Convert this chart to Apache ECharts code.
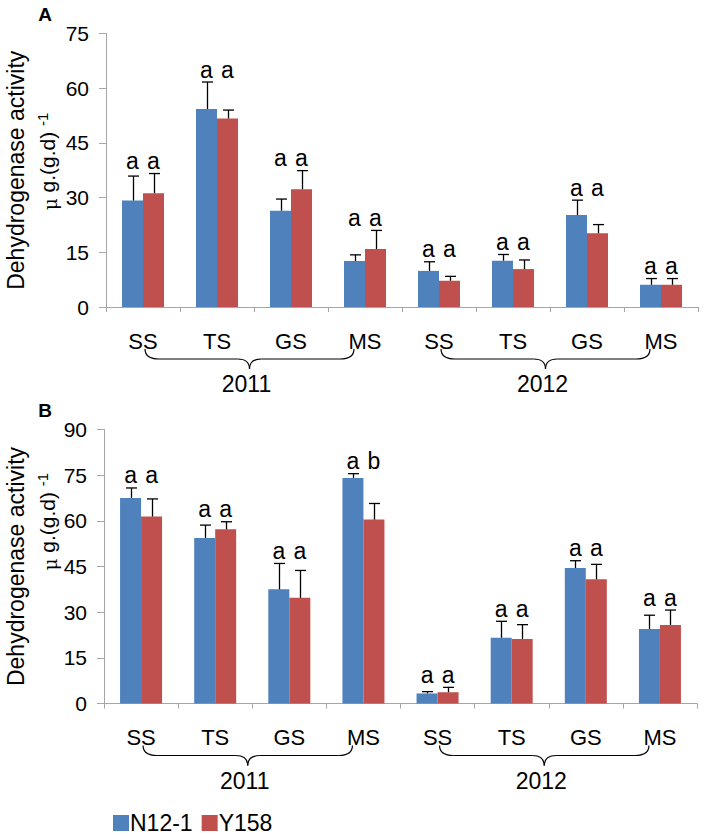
<!DOCTYPE html>
<html>
<head>
<meta charset="utf-8">
<script src="https://cdn.jsdelivr.net/npm/echarts@6/dist/echarts.min.js"></script>
<style>
html,body{margin:0;padding:0;background:#fff;}
#chart{width:705px;height:836px;}
</style>
</head>
<body>
<div id="chart"></div>
<script>
// ---- data ----
const categories = ['SS','TS','GS','MS','SS','TS','GS','MS'];
const yearLabels = ['2011','2012'];
const seriesNames = ['N12-1','Y158'];
const panelLabels = ['A','B'];

const A_N12 = [29.2, 54.3, 26.4, 12.6, 9.9, 12.7, 25.2, 6.1];
const A_N12_err = [6.7, 7.4, 3.2, 1.7, 2.5, 1.7, 4.1, 1.7];
const A_Y158 = [31.2, 51.7, 32.3, 15.9, 7.2, 10.4, 20.2, 6.1];
const A_Y158_err = [5.4, 2.3, 5.1, 5.1, 1.2, 2.5, 2.4, 1.7];
const A_N12_letters = ['a','a','a','a','a','a','a','a'];
const A_Y158_letters = ['a','a','a','a','a','a','a','a'];

const B_N12 = [67.5, 54.4, 37.5, 74.1, 3.3, 21.6, 44.5, 24.5];
const B_N12_err = [3.3, 4.2, 8.5, 1.4, 0.6, 5.4, 2.4, 4.5];
const B_Y158 = [61.4, 57.2, 34.7, 60.4, 3.7, 21.2, 40.8, 25.8];
const B_Y158_err = [5.8, 2.5, 9.0, 5.3, 1.6, 4.7, 4.9, 4.9];
const B_N12_letters = ['a','a','a','a','a','a','a','a'];
const B_Y158_letters = ['a','a','a','b','a','a','a','a'];

const yTicksA = {min:0, max:75, interval:15};
const yTicksB = {min:0, max:90, interval:15};

// ---- style ----
const FONT = 'Liberation Sans, Arial, sans-serif';
const BLUE = '#4F81BD';
const RED = '#C0504D';
const AXIS = '#A6A6A6';
const BAR_W = 21;

const chart = echarts.init(document.getElementById('chart'), null, {renderer:'svg'});

function errSeries(g, vals, errs, offset){
  return {
    type:'custom', xAxisIndex:g, yAxisIndex:g, z:5, silent:true,
    data: vals.map((v,i)=>[i, v, errs[i]]),
    encode:{x:0, y:1},
    renderItem:(params, api)=>{
      const i = api.value(0), v = api.value(1), e = api.value(2);
      const p0 = api.coord([i, v]);
      const p1 = api.coord([i, v + e]);
      const x = Math.round(p0[0] + offset) + 0.5;
      const st = {stroke:'#000', lineWidth:1.3};
      return {type:'group', children:[
        {type:'line', shape:{x1:x, y1:p0[1], x2:x, y2:p1[1]}, style:st},
        {type:'line', shape:{x1:x-5.5, y1:p1[1], x2:x+5.5, y2:p1[1]}, style:st}
      ]};
    }
  };
}

function letterSeries(g, nv, ne, yv, ye, nl, yl){
  return {
    type:'custom', xAxisIndex:g, yAxisIndex:g, z:6, silent:true,
    data: nv.map((v,i)=>[i, Math.max(v + ne[i], yv[i] + ye[i])]),
    encode:{x:0, y:1},
    renderItem:(params, api)=>{
      const i = api.value(0), top = api.value(1);
      const p = api.coord([i, top]);
      const mk = (t, dx)=>({type:'text', x:p[0]+dx, y:p[1]-1,
        style:{text:t, fill:'#000', font:'23px ' + FONT, align:'center', verticalAlign:'bottom'}});
      return {type:'group', children:[mk(nl[i], -BAR_W/2), mk(yl[i], BAR_W/2)]};
    }
  };
}

function xAxisCfg(g){
  return {
    type:'category', gridIndex:g, data:categories,
    axisLine:{lineStyle:{color:AXIS, width:1}},
    axisTick:{show:true, length:5, lineStyle:{color:AXIS}},
    axisLabel:{color:'#000', fontSize:22, fontFamily:FONT, margin:23, interval:0}
  };
}
function yAxisCfg(g, t){
  return {
    type:'value', gridIndex:g, min:t.min, max:t.max, interval:t.interval,
    splitLine:{show:false},
    axisLine:{show:true, lineStyle:{color:AXIS, width:1}},
    axisTick:{show:true, length:7, lineStyle:{color:AXIS}},
    axisLabel:{color:'#000', fontSize:21, fontFamily:FONT, margin:17}
  };
}
function barSeries(g, name, vals, color){
  return {type:'bar', name:name, xAxisIndex:g, yAxisIndex:g, data:vals,
    barWidth:BAR_W, barGap:'0%', itemStyle:{color:color}, z:2};
}

const option = {
  animation:false,
  backgroundColor:'#fff',
  grid:[
    {left:106, top:33.5, width:592, height:273.5},
    {left:104, top:429.5, width:593, height:274}
  ],
  xAxis:[xAxisCfg(0), xAxisCfg(1)],
  yAxis:[yAxisCfg(0, yTicksA), yAxisCfg(1, yTicksB)],
  legend:{
    data:seriesNames, left:108, top:806, icon:'rect',
    itemWidth:16, itemHeight:16, itemGap:9,
    textStyle:{fontSize:23, fontFamily:FONT, color:'#000', padding:[0,0,0,-4], lineHeight:24}
  },
  series:[
    barSeries(0, seriesNames[0], A_N12, BLUE),
    barSeries(0, seriesNames[1], A_Y158, RED),
    errSeries(0, A_N12, A_N12_err, -BAR_W/2),
    errSeries(0, A_Y158, A_Y158_err, BAR_W/2),
    letterSeries(0, A_N12, A_N12_err, A_Y158, A_Y158_err, A_N12_letters, A_Y158_letters),
    barSeries(1, seriesNames[0], B_N12, BLUE),
    barSeries(1, seriesNames[1], B_Y158, RED),
    errSeries(1, B_N12, B_N12_err, -BAR_W/2),
    errSeries(1, B_Y158, B_Y158_err, BAR_W/2),
    letterSeries(1, B_N12, B_N12_err, B_Y158, B_Y158_err, B_N12_letters, B_Y158_letters)
  ]
};
chart.setOption(option);

// ---- decorations: braces, year labels, panel letters, y titles ----
function braceParts(x1, x2, yTop, yMid, yTip){
  const xm = (x1 + x2) / 2;
  const st = {fill:'none', stroke:'#000', lineWidth:1.2};
  const curve = (ax, ay, cx, cy, bx, by)=>({type:'bezierCurve', silent:true,
    shape:{x1:ax, y1:ay, x2:bx, y2:by, cpx1:cx, cpy1:cy}, style:st});
  const line = (ax, ay, bx, by)=>({type:'line', silent:true,
    shape:{x1:ax, y1:ay, x2:bx, y2:by}, style:st});
  return [
    curve(x1, yTop, x1, yMid, x1 + 14, yMid),
    line(x1 + 14, yMid, xm - 12, yMid),
    curve(xm - 12, yMid, xm, yMid, xm, yTip),
    curve(xm, yTip, xm, yMid, xm + 12, yMid),
    line(xm + 12, yMid, x2 - 14, yMid),
    curve(x2 - 14, yMid, x2, yMid, x2, yTop)
  ];
}
const graphics = [];
[0,1].forEach(g=>{
  const base = chart.convertToPixel({yAxisIndex:g}, 0);
  const top = chart.convertToPixel({yAxisIndex:g}, g === 0 ? yTicksA.max : yTicksB.max);
  [0,1].forEach(k=>{
    const xs = chart.convertToPixel({xAxisIndex:g}, 4*k);
    const xe = chart.convertToPixel({xAxisIndex:g}, 4*k + 3);
    const x1 = xs + 2, x2 = xe - 11;
    braceParts(x1, x2, base + 42, base + 52, base + 62).forEach(p=>graphics.push(p));
    graphics.push({type:'text', silent:true, x:(x1 + x2)/2 - 3, y:base + 77,
      style:{text:yearLabels[k], font:'23px ' + FONT, fill:'#000', align:'center', verticalAlign:'middle'}});
  });
  graphics.push({type:'text', silent:true, x:45, y:top - 19,
    style:{text:panelLabels[g], font:'bold 19px ' + FONT, fill:'#000', align:'center', verticalAlign:'middle'}});
  const mid = (base + top) / 2;
  graphics.push({type:'text', silent:true, x:16, y:mid, rotation:Math.PI/2,
    style:{text:'Dehydrogenase activity', font:'23px ' + FONT, fill:'#000', align:'center', verticalAlign:'middle'}});
  graphics.push({type:'text', silent:true, x:47, y: g === 0 ? mid - 9 : mid - 45, rotation:Math.PI/2,
    style:{text:'{mu|μ} g.(g.d) {sup|-1}', fill:'#000', align:'center', verticalAlign:'middle',
      font:'21px ' + FONT, lineHeight:24,
      rich:{
        mu:{fontFamily:'DejaVu Serif', fontSize:18, lineHeight:24, verticalAlign:'bottom'},
        sup:{fontSize:15, fontFamily:FONT, lineHeight:24, verticalAlign:'top'}
      }}});
});
chart.setOption({graphic:graphics});
</script>
</body>
</html>
